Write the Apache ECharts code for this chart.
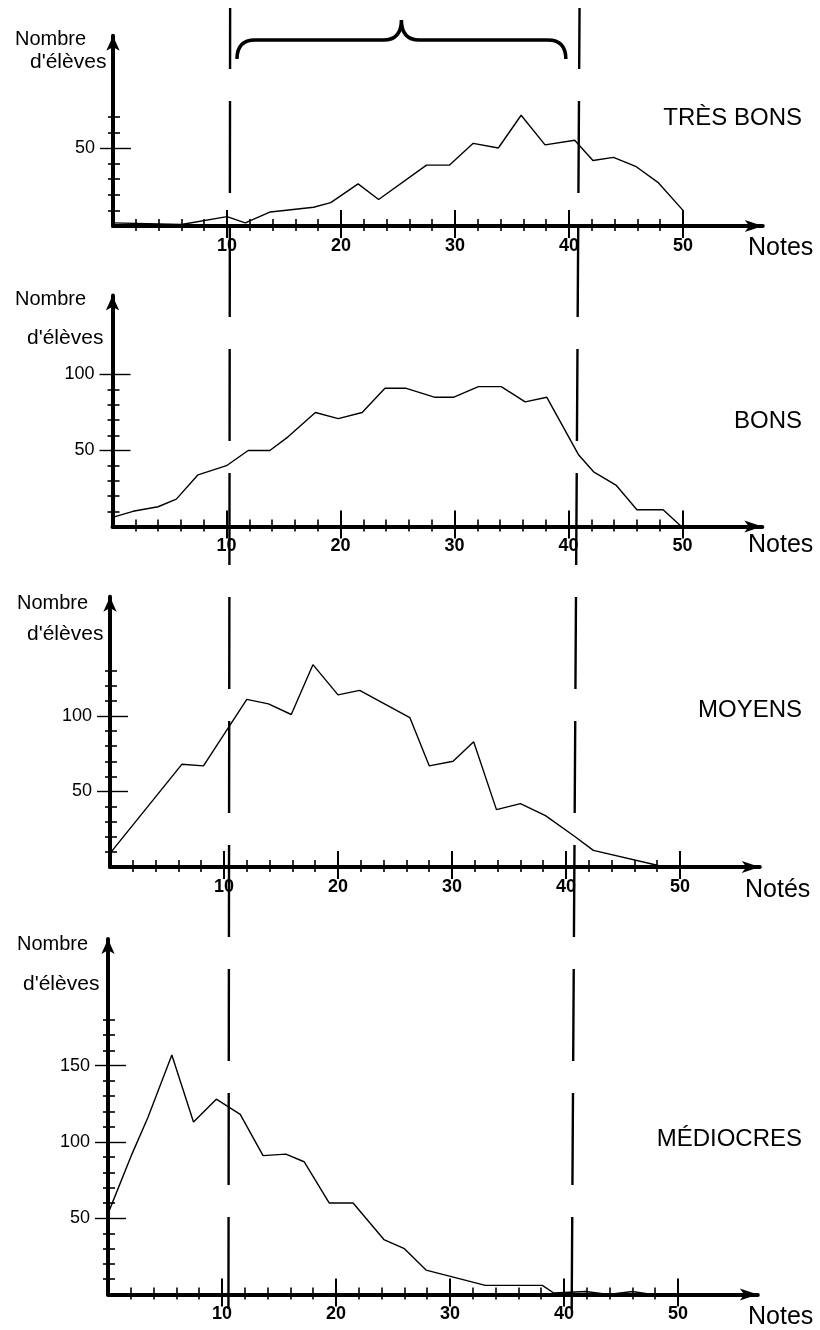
<!DOCTYPE html>
<html><head><meta charset="utf-8">
<script src="https://cdn.jsdelivr.net/npm/echarts@6/dist/echarts.min.js"></script>
<style>html,body{margin:0;padding:0;background:#fff}#c{width:820px;height:1330px}</style>
</head><body><div id="c"></div>
<script>
// ---------- data ----------
const PANEL_NAMES = ['TRÈS BONS', 'BONS', 'MOYENS', 'MÉDIOCRES'];
const X_TITLES = ['Notes', 'Notes', 'Notés', 'Notes'];
const Y_TITLE_1 = 'Nombre';
const Y_TITLE_2 = "d'élèves";

const TRES_BONS_X = [0, 6, 10, 11.6, 13.8, 17.6, 19.1, 21.5, 23.3, 27.5, 29.5, 31.6, 33.8, 35.8, 37.9, 40.5, 42.1, 43.9, 45.9, 47.8, 50];
const TRES_BONS_Y = [2, 1, 6, 2, 9, 12, 15, 27, 17, 39, 39, 53, 50, 71, 52, 55, 42, 44, 38, 28, 10];

const BONS_X = [0, 1.8, 4.0, 5.6, 7.5, 10.0, 11.9, 13.8, 15.4, 17.8, 19.8, 21.9, 23.9, 25.7, 28.3, 29.9, 32.1, 34.1, 36.2, 38.1, 40.9, 42.2, 44.2, 46.0, 48.3, 49.9];
const BONS_Y = [6, 10, 13, 18, 34, 40, 50, 50, 59, 75, 71, 75, 91, 91, 85, 85, 92, 92, 82, 85, 47, 36, 27, 11, 11, 0];

const MOYENS_X = [0, 6.3, 8.2, 12.0, 13.9, 15.9, 17.8, 20.0, 21.9, 26.3, 28.0, 30.1, 31.9, 33.9, 36.0, 38.2, 40.8, 42.4, 48.1];
const MOYENS_Y = [9, 68, 67, 111, 108, 101, 134, 114, 117, 99, 67, 70, 83, 38, 42, 34, 20, 11, 1];

const MEDIOCRES_X = [0, 2.1, 3.5, 5.6, 7.5, 9.5, 11.6, 13.6, 15.6, 17.2, 19.4, 21.5, 24.2, 26.0, 27.9, 33.1, 38.1, 39.1, 41.9, 43.9, 46.0, 47.7];
const MEDIOCRES_Y = [53, 92, 116, 157, 113, 128, 118, 91, 92, 87, 60, 60, 36, 30, 16, 6, 6, 1, 2, 0, 2, 0];

const SERIES_X = [TRES_BONS_X, BONS_X, MOYENS_X, MEDIOCRES_X];
const SERIES_Y = [TRES_BONS_Y, BONS_Y, MOYENS_Y, MEDIOCRES_Y];

const X_MAJOR_TICKS = [10, 20, 30, 40, 50];
const X_MINOR_TICKS = [2, 4, 6, 8, 12, 14, 16, 18, 22, 24, 26, 28, 32, 34, 36, 38, 42, 44, 46, 48];
const Y_MAJOR_TICKS = [[50], [50, 100], [50, 100], [50, 100, 150]];
const Y_MINOR_TICKS = [
  [10, 20, 30, 40, 60, 70],
  [10, 20, 30, 40, 60, 70, 80, 90],
  [10, 20, 30, 40, 60, 70, 80, 90, 110, 120, 130],
  [10, 20, 30, 40, 60, 70, 80, 90, 110, 120, 130, 140, 160, 170, 180]
];
const Y_MAX = [122, 152, 179, 233];
const X_MAX = 57;

// dashed separators (in notes) at top and bottom of the page, and the brace span
const DIVIDER_TOP = [10.45, 41.1];
const DIVIDER_BOTTOM = [10.3, 40.4];
const BRACE_SPAN = [11.05, 39.9];

// ---------- layout ----------
const PX_PER_NOTE = 11.4;
const LAYOUT = [
  { left: 113, base: 226,    scale: 1.56,  nombre: [15, 39],  eleves: [30, 62],  name: 118,  notes: [748, 248] },
  { left: 112.5, base: 526.5, scale: 1.52, nombre: [15, 299], eleves: [27, 338], name: 421,  notes: [748, 545] },
  { left: 110, base: 867,    scale: 1.51,  nombre: [17, 603], eleves: [27, 634], name: 710,  notes: [745, 890] },
  { left: 108, base: 1294.5, scale: 1.526, nombre: [17, 944], eleves: [23, 984], name: 1139, notes: [748, 1317] }
];
const FONT = '"Liberation Sans", Arial, sans-serif';
const INK = '#000';

const grids = [], xAxes = [], yAxes = [], series = [], titles = [];

function txt(text, left, cy, size, extra) {
  return Object.assign({
    text, left, top: cy - size / 2, padding: 0,
    textStyle: { fontFamily: FONT, fontWeight: 'normal', fontSize: size, lineHeight: size, color: INK }
  }, extra || {});
}

LAYOUT.forEach((L, i) => {
  const h = Y_MAX[i] * L.scale;
  grids.push({ left: L.left, width: X_MAX * PX_PER_NOTE, top: L.base - h, height: h });
  const xb = xAxes.length, yb = yAxes.length;
  // main x axis: thick line with arrow
  xAxes.push({ type: 'value', gridIndex: i, min: 0, max: X_MAX, position: 'bottom',
    axisLine: { show: true, onZero: false, symbol: ['none', 'arrow'], symbolSize: [9, 18], lineStyle: { color: INK, width: 4 } },
    axisTick: { show: false }, axisLabel: { show: false }, splitLine: { show: false } });
  // minor crossing ticks
  xAxes.push({ type: 'value', gridIndex: i, min: 0, max: X_MAX, position: 'bottom', offset: -7,
    axisLine: { show: false }, axisTick: { show: true, length: 12, customValues: X_MINOR_TICKS, lineStyle: { color: INK, width: 1.6 } },
    axisLabel: { show: false }, splitLine: { show: false } });
  // major crossing ticks + labels
  xAxes.push({ type: 'value', gridIndex: i, min: 0, max: X_MAX, position: 'bottom', offset: -16,
    axisLine: { show: false }, axisTick: { show: true, length: 28, customValues: X_MAJOR_TICKS, lineStyle: { color: INK, width: 2 } },
    axisLabel: { show: true, margin: 27, customValues: X_MAJOR_TICKS, fontFamily: FONT, fontSize: 18, fontWeight: 'bold', color: INK },
    splitLine: { show: false } });

  yAxes.push({ type: 'value', gridIndex: i, min: 0, max: Y_MAX[i], position: 'left',
    axisLine: { show: true, onZero: false, symbol: ['none', 'arrow'], symbolSize: [10, 15], lineStyle: { color: INK, width: 4 } },
    axisTick: { show: false }, axisLabel: { show: false }, splitLine: { show: false } });
  yAxes.push({ type: 'value', gridIndex: i, min: 0, max: Y_MAX[i], position: 'left', offset: -7,
    axisLine: { show: false }, axisTick: { show: true, length: 12, customValues: Y_MINOR_TICKS[i], lineStyle: { color: INK, width: 1.6 } },
    axisLabel: { show: false }, splitLine: { show: false } });
  yAxes.push({ type: 'value', gridIndex: i, min: 0, max: Y_MAX[i], position: 'left', offset: -18,
    axisLine: { show: false }, axisTick: { show: true, length: 31, customValues: Y_MAJOR_TICKS[i], lineStyle: { color: INK, width: 1.4 } },
    axisLabel: { show: true, margin: 36, customValues: Y_MAJOR_TICKS[i], fontFamily: FONT, fontSize: 18, color: INK },
    splitLine: { show: false } });

  series.push({ type: 'line', xAxisIndex: xb, yAxisIndex: yb, symbol: 'none', silent: true,
    lineStyle: { color: INK, width: 1.4 },
    data: SERIES_X[i].map((x, k) => [x, SERIES_Y[i][k]]) });

  titles.push(txt(Y_TITLE_1, L.nombre[0], L.nombre[1], 20));
  titles.push(txt(Y_TITLE_2, L.eleves[0], L.eleves[1], 21));
  titles.push(Object.assign(txt(PANEL_NAMES[i], 0, L.name, 24), { left: undefined, right: 18 }));
  titles.push(txt(X_TITLES[i], L.notes[0], L.notes[1], 25));
});

// overlay grid for the page-wide separators and the brace
const OV = grids.length;
grids.push({ left: 111, width: X_MAX * PX_PER_NOTE, top: 8, bottom: 0 });
const oX = xAxes.length, oY = yAxes.length;
xAxes.push({ type: 'value', gridIndex: OV, min: 0, max: X_MAX, show: false });
yAxes.push({ type: 'value', gridIndex: OV, min: 0, max: 1, show: false });
[0, 1].forEach(j => {
  series.push({ type: 'line', xAxisIndex: oX, yAxisIndex: oY, symbol: 'none', silent: true, z: 5,
    lineStyle: { color: INK, width: 2.4, type: [92, 32], dashOffset: 31 },
    data: [[DIVIDER_TOP[j], 1], [DIVIDER_BOTTOM[j], 0]] });
});
series.push({ type: 'custom', xAxisIndex: oX, yAxisIndex: oY, silent: true, z: 6,
  data: [[BRACE_SPAN[0], BRACE_SPAN[1]]],
  renderItem: function (params, api) {
    const x1 = api.coord([api.value(0), 1])[0];
    const x2 = api.coord([api.value(1), 1])[0];
    const xm = (x1 + x2) / 2;
    const top = params.coordSys.y;
    const yTip = top + 12, yBar = top + 32, yEnd = top + 51;
    const r = 18;
    const d = `M${x1},${yEnd} Q${x1},${yBar} ${x1 + r},${yBar} L${xm - r},${yBar} Q${xm},${yBar} ${xm},${yTip} ` +
              `Q${xm},${yBar} ${xm + r},${yBar} L${x2 - r},${yBar} Q${x2},${yBar} ${x2},${yEnd}`;
    return { type: 'path', shape: { pathData: d }, style: { stroke: INK, fill: null, lineWidth: 3.5 } };
  }
});

const chart = echarts.init(document.getElementById('c'), null, { renderer: 'canvas' });
chart.setOption({
  backgroundColor: '#fff',
  animation: false,
  title: titles,
  grid: grids,
  xAxis: xAxes,
  yAxis: yAxes,
  series: series
});
</script>
</body></html>
